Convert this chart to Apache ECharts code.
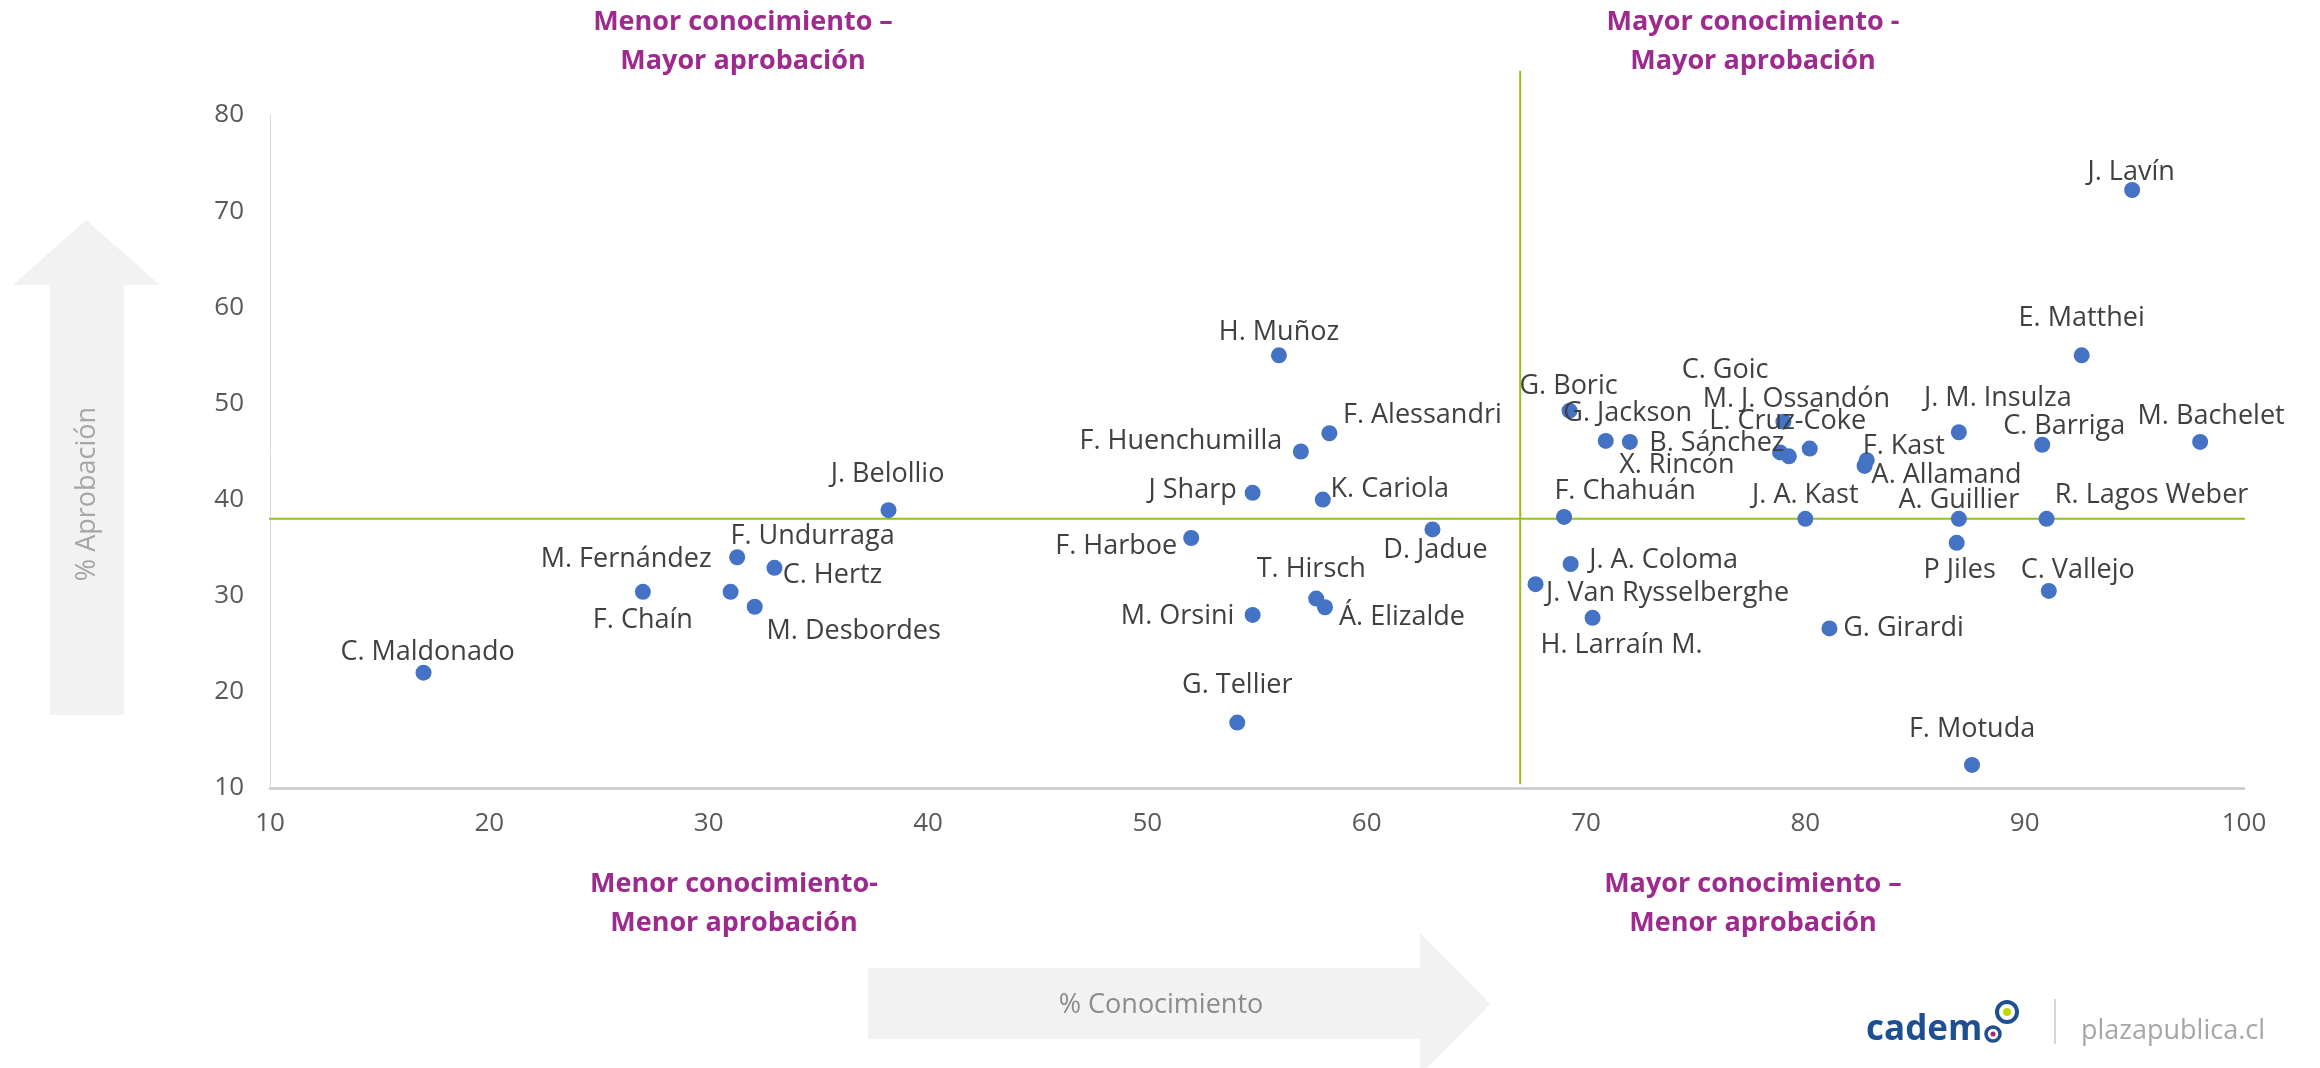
<!DOCTYPE html>
<html>
<head>
<meta charset="utf-8">
<script src="https://cdn.jsdelivr.net/npm/echarts@6.0.0/dist/echarts.min.js"></script>
<style>
  html, body { margin: 0; padding: 0; background: #fff; }
  #chartContainer { width: 2320px; height: 1068px; }
</style>
</head>
<body>
<div id="chartContainer"></div>
<script>
// data
const nombres = [
  'C. Maldonado', 'F. Chaín', 'M. Fernández', 'F. Undurraga', 'C. Hertz', 'M. Desbordes',
  'J. Belollio', 'F. Harboe', 'J Sharp', 'M. Orsini', 'G. Tellier', 'H. Muñoz',
  'F. Huenchumilla', 'T. Hirsch', 'K. Cariola', 'Á. Elizalde', 'F. Alessandri', 'D. Jadue',
  'J. Van Rysselberghe', 'F. Chahuán', 'G. Boric', 'J. A. Coloma', 'H. Larraín M.', 'G. Jackson',
  'B. Sánchez', 'C. Goic', 'M. J. Ossandón', 'X. Rincón', 'J. A. Kast', 'L. Cruz-Coke',
  'G. Girardi', 'A. Allamand', 'F. Kast', 'P Jiles', 'A. Guillier', 'J. M. Insulza',
  'F. Motuda', 'C. Barriga', 'R. Lagos Weber', 'C. Vallejo', 'E. Matthei', 'J. Lavín', 'M. Bachelet'
];
const conocimiento = [
  17, 27, 31.3, 31.0, 33.0, 32.1,
  38.2, 52.0, 54.8, 54.8, 54.1, 56.0,
  57.0, 57.7, 58.0, 58.1, 58.3, 63.0,
  67.7, 69.0, 69.25, 69.3, 70.3, 70.9,
  72.0, 78.85, 79.0, 79.25, 80.0, 80.2,
  81.1, 82.7, 82.8, 86.9, 87.0, 87.0,
  87.6, 90.8, 91.0, 91.1, 92.6, 94.9, 98.0
];
const aprobacion = [
  22, 30.4, 34, 30.4, 32.9, 28.85,
  38.9, 36.0, 40.7, 28.0, 16.8, 55.0,
  45.0, 29.7, 40.0, 28.8, 46.9, 36.9,
  31.2, 38.2, 49.25, 33.3, 27.7, 46.1,
  46.0, 44.9, 48.1, 44.5, 38.0, 45.3,
  26.6, 43.5, 44.1, 35.5, 38.0, 47.0,
  12.4, 45.7, 38.0, 30.5, 55.0, 72.2, 46.0
];
// quadrant split values
const umbralConocimiento = 67;
const umbralAprobacion = 38;
const xMin = 10, xMax = 100, yMin = 10, yMax = 80;

// label placement (pixel offset of each label from its dot)
const labelOffsets = [
  [4, -20], [0, 28], [-111, 2], [82, -56], [58, 7], [99, 25],
  [-1, -36], [-75, 8], [-60, -3], [-75, 1], [0, -37], [0, -23],
  [-120, -10], [-5, -29], [67, -10], [77, 10], [93, -18], [3, 21],
  [132, 9], [61, -26], [-1, -24], [93, -4], [29, 27], [22, -28],
  [87, 1], [-55, -82], [13, -22], [-112, 9], [0, -23], [-22, -27],
  [74, 0], [82, 9], [37, -14], [3, 27], [0, -18], [39, -34],
  [0, -36], [22, -18], [105, -23], [29, -21], [0, -37], [-1, -18], [11, -26]
];

const purple = '#9E2A8E';
const green = '#95C11F';
const arrowGrey = '#F2F2F2';

const chart = echarts.init(document.getElementById('chartContainer'));

const puntos = nombres.map((n, i) => ({
  name: n,
  value: [conocimiento[i], aprobacion[i]],
  label: { offset: labelOffsets[i] }
}));

chart.setOption({
  animation: false,
  backgroundColor: '#ffffff',
  grid: { left: 270, right: 76, top: 115, bottom: 280 },
  xAxis: {
    type: 'value', min: xMin, max: xMax, interval: 10,
    axisLine: { show: true, lineStyle: { color: '#C8C8C8', width: 2.5 } },
    axisTick: { show: false },
    splitLine: { show: false },
    axisLabel: { color: '#595959', fontFamily: 'Open Sans', fontSize: 26, margin: 23 }
  },
  yAxis: {
    type: 'value', min: yMin, max: yMax, interval: 10,
    axisLine: { show: true, lineStyle: { color: '#D9D9D9', width: 1 } },
    axisTick: { show: false },
    splitLine: { show: false },
    axisLabel: { color: '#595959', fontFamily: 'Open Sans', fontSize: 26, margin: 26 }
  },
  series: [
    {
      // vertical split line, drawn a bit past the top of the plot like the original
      type: 'line', silent: true, clip: false, symbol: 'none', z: 1,
      data: [[umbralConocimiento, 10.4], [umbralConocimiento, 84.6]],
      lineStyle: { color: green, width: 2 }
    },
    {
      type: 'line', silent: true, clip: false, symbol: 'none', z: 1,
      data: [[9.8, umbralAprobacion], [102.2, umbralAprobacion]],
      lineStyle: { color: green, width: 2 }
    },
    {
      type: 'scatter', z: 3,
      symbolSize: 16,
      itemStyle: { color: '#4472C4', opacity: 1 },
      label: {
        show: true, position: 'inside',
        formatter: '{b}',
        color: '#404040', fontFamily: 'Open Sans', fontSize: 27,
        textBorderWidth: 0, textShadowBlur: 0,
        align: 'center', verticalAlign: 'middle'
      },
      data: puntos
    }
  ],
  graphic: [
    // y arrow
    {
      type: 'polygon', z: 0,
      shape: { points: [[86, 220], [160, 285], [124, 285], [124, 715], [50, 715], [50, 285], [13, 285]] },
      style: { fill: arrowGrey }
    },
    {
      type: 'text', z: 1, x: 87, y: 494, rotation: Math.PI / 2,
      style: { text: '% Aprobación', fill: '#A6A6A6', font: '27px "Open Sans"', textAlign: 'center', textVerticalAlign: 'middle' }
    },
    // x arrow
    {
      type: 'polygon', z: 0,
      shape: { points: [[868, 968], [1420, 968], [1420, 933], [1490, 1004], [1420, 1075], [1420, 1039], [868, 1039]] },
      style: { fill: arrowGrey }
    },
    {
      type: 'text', z: 1, x: 1161, y: 1005,
      style: { text: '% Conocimiento', fill: '#8C8C8C', font: '27px "Open Sans"', textAlign: 'center', textVerticalAlign: 'middle' }
    },
    // quadrant titles
    {
      type: 'text', x: 743, y: 42,
      style: { text: 'Menor conocimiento –\nMayor aprobación', fill: purple, font: 'bold 27px "Open Sans"', lineHeight: 39, textAlign: 'center', textVerticalAlign: 'middle' }
    },
    {
      type: 'text', x: 1753, y: 42,
      style: { text: 'Mayor conocimiento -\nMayor aprobación', fill: purple, font: 'bold 27px "Open Sans"', lineHeight: 39, textAlign: 'center', textVerticalAlign: 'middle' }
    },
    {
      type: 'text', x: 734, y: 904,
      style: { text: 'Menor conocimiento-\nMenor aprobación', fill: purple, font: 'bold 27px "Open Sans"', lineHeight: 39, textAlign: 'center', textVerticalAlign: 'middle' }
    },
    {
      type: 'text', x: 1753, y: 904,
      style: { text: 'Mayor conocimiento –\nMenor aprobación', fill: purple, font: 'bold 27px "Open Sans"', lineHeight: 39, textAlign: 'center', textVerticalAlign: 'middle' }
    },
    // logo
    {
      type: 'text', x: 1866, y: 1030,
      style: { text: 'cadem', fill: '#1D4F91', font: 'bold 35px "Open Sans"', textAlign: 'left', textVerticalAlign: 'middle' }
    },
    {
      type: 'circle', shape: { cx: 1993, cy: 1034, r: 7 },
      style: { fill: '#fff', stroke: '#1D4F91', lineWidth: 3.5 }
    },
    {
      type: 'circle', shape: { cx: 1993, cy: 1034, r: 2.5 },
      style: { fill: '#B0246E' }
    },
    {
      type: 'circle', shape: { cx: 2007, cy: 1012, r: 10 },
      style: { fill: '#fff', stroke: '#1D4F91', lineWidth: 4 }
    },
    {
      type: 'circle', shape: { cx: 2007, cy: 1012, r: 4 },
      style: { fill: '#C4D600' }
    },
    {
      type: 'line', shape: { x1: 2055, y1: 999, x2: 2055, y2: 1044 },
      style: { stroke: '#C8C8C8', lineWidth: 1.5 }
    },
    {
      type: 'text', x: 2081, y: 1031,
      style: { text: 'plazapublica.cl', fill: '#A6A6A6', font: '27px "Open Sans"', textAlign: 'left', textVerticalAlign: 'middle' }
    }
  ]
});
</script>
</body>
</html>
